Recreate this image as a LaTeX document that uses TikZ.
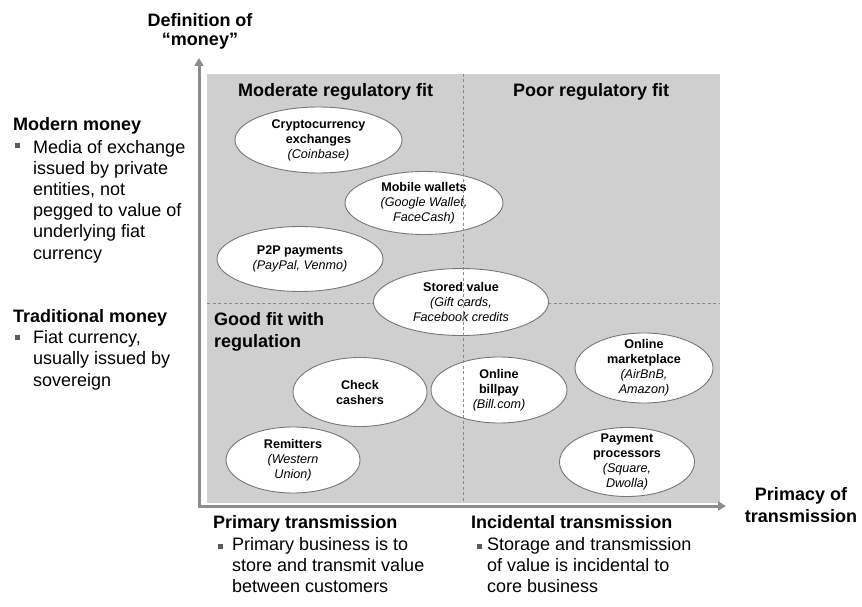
\documentclass[tikz,border=0pt]{standalone}
\usepackage{fontspec}
\setmainfont{Liberation Sans}
\usetikzlibrary{shapes.geometric,arrows.meta}
\definecolor{axisgray}{HTML}{8C8C8C}
\definecolor{fieldgray}{HTML}{CFCFCF}
\definecolor{edgegray}{HTML}{777777}
\definecolor{dashgray}{HTML}{8A8A8A}
\definecolor{bulletgray}{HTML}{5A5A5A}
\begin{document}
\begin{tikzpicture}[x=1pt,y=-1pt,
  body/.style={font=\fontsize{18}{21.3}\selectfont, align=left, inner sep=0pt, anchor=base west},
  head/.style={font=\fontsize{18}{21.5}\selectfont\bfseries, inner sep=0pt, anchor=base west, align=left},
  bul/.style={fill=bulletgray, minimum size=5pt, inner sep=0pt, draw=none},
  oval/.style 2 args={ellipse, draw=edgegray, line width=0.9pt, fill=white, minimum width=#1pt, minimum height=#2pt, inner sep=0pt},
  otext/.style={font=\fontsize{12.6}{15}\selectfont\bfseries, align=center, inner sep=0pt},
  axis/.style={draw=axisgray, line width=3pt, -{Triangle[width=9pt,length=8pt]}},
  quad/.style={draw=dashgray, line width=0.8pt, dash pattern=on 3pt off 2.5pt},
]
\useasboundingbox (0,0) rectangle (862,607);

% shaded field
\fill[fieldgray] (207,74) rectangle (720,503);
\draw[quad] (207,303) -- (720,303);

% axes
\coordinate (o) at (199,506);
\coordinate (ytip) at (199,58);
\coordinate (xtip) at (726,506);
\draw[axis, line cap=rect] (o) -- (ytip);
\draw[axis, line cap=rect] (o) -- (xtip);

% axis labels (base anchor = baseline of last line)
\node[head, anchor=base, align=center, font=\fontsize{18}{19.5}\selectfont\bfseries] (ylab) at (200,46) {Definition of\\“money”};
\node[head, anchor=base, align=center, font=\fontsize{18}{22}\selectfont\bfseries] (xlab) at (801,522) {Primacy of\\transmission};

% left labels
\node[head] (mm) at (13,131) {Modern money};
\node[bul] (bm) at (17.8,146) {};
\node[body, font=\fontsize{18}{21.2}\selectfont] (mmt) at (33,259) {Media of exchange\\issued by private\\entities, not\\pegged to value of\\underlying fiat\\currency};
\node[head] (tm) at (13,322) {Traditional money};
\node[bul] (bt) at (17.8,337) {};
\node[body, font=\fontsize{18}{21.5}\selectfont] (tmt) at (33,386) {Fiat currency,\\usually issued by\\sovereign};

% bottom labels
\node[head] (pt) at (213,528) {Primary transmission};
\node[bul] (bp) at (220.5,546.5) {};
\node[body] (ptt) at (232,592.6) {Primary business is to\\store and transmit value\\between customers};
\node[head] (itr) at (471,528) {Incidental transmission};
\node[bul] (bi) at (479.5,546.5) {};
\node[body] (itt) at (487,592.6) {Storage and transmission\\of value is incidental to\\core business};

% quadrant labels
\node[head] (q1) at (238,97) {Moderate regulatory fit};
\node[head] (q2) at (513,97) {Poor regulatory fit};
\node[head, font=\fontsize{18}{22}\selectfont\bfseries] (q3) at (214,347) {Good fit with\\regulation};

% ellipses
\node[oval={167}{66}] (e1) at (318.5,140) {};
\node[otext] (t1) at (e1.center) {Cryptocurrency\\exchanges\\{\mdseries\itshape (Coinbase)}};
\node[oval={158}{63}] (e2) at (424,203) {};
\node[otext] (t2) at (e2.center) {Mobile wallets\\{\mdseries\itshape (Google Wallet,}\\{\mdseries\itshape FaceCash)}};
\node[oval={166}{65}] (e3) at (300,259) {};
\node[otext] (t3) at (e3.center) {P2P payments\\{\mdseries\itshape (PayPal, Venmo)}};
\node[oval={175}{67}] (e4) at (461,302) {};
\node[otext] (t4) at (e4.center) {Stored value\\{\mdseries\itshape (Gift cards,}\\{\mdseries\itshape Facebook credits}};
\node[oval={134}{69}] (e5) at (360,392) {};
\node[otext] (t5) at (e5.center) {Check\\cashers};
\node[oval={136}{66}] (e6) at (499,390) {};
\node[otext] (t6) at (e6.center) {Online\\billpay\\{\mdseries\itshape (Bill.com)}};
\node[oval={134}{66}] (e7) at (293,460) {};
\node[otext] (t7) at (e7.center) {Remitters\\{\mdseries\itshape (Western}\\{\mdseries\itshape Union)}};
\node[oval={138}{70}] (e8) at (644,368) {};
\node[otext] (t8) at (e8.center) {Online\\marketplace\\{\mdseries\itshape (AirBnB,}\\{\mdseries\itshape Amazon)}};
\node[oval={135}{69}] (e9) at (627,462) {};
\node[otext] (t9) at (e9.center) {Payment\\processors\\{\mdseries\itshape (Square,}\\{\mdseries\itshape Dwolla)}};

% vertical divider over ellipses
\draw[quad] (463,74) -- (463,503);
\end{tikzpicture}
\end{document}
